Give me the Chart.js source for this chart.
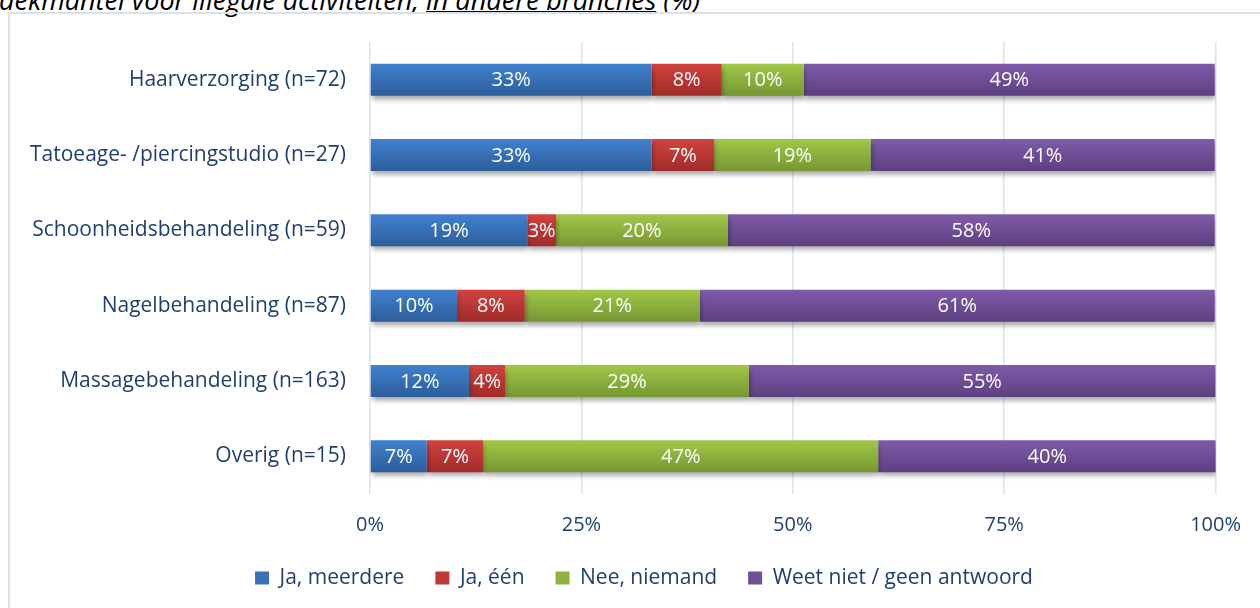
<!DOCTYPE html>
<html>
<head>
<meta charset="utf-8">
<script src="https://cdn.jsdelivr.net/npm/chart.js@4"></script>
<style>
  body { margin: 0; background: #fff; width: 1260px; height: 608px; overflow: hidden; position: relative; }
  #titel { position: absolute; left: -1px; top: -14px; font: italic 27px "Open Sans", sans-serif; line-height: 27px; color: #000; white-space: nowrap; }
  #titel u { text-decoration-thickness: 1.5px; }
  #kader { position: absolute; left: 8px; top: 12px; width: 1300px; height: 700px; border: 2px solid #d8e2ef; }
  #wrap { position: absolute; left: 0; top: 0; width: 1260px; height: 608px; }
</style>
</head>
<body>
<div id="titel">dekmantel voor illegale activiteiten, <u>in andere branches</u> (%)</div>
<div id="kader"></div>
<div id="wrap"><canvas id="grafiek" width="1260" height="608"></canvas></div>
<script>
const branches = [
  "Haarverzorging (n=72)",
  "Tatoeage- /piercingstudio (n=27)",
  "Schoonheidsbehandeling (n=59)",
  "Nagelbehandeling (n=87)",
  "Massagebehandeling (n=163)",
  "Overig (n=15)"
];
const jaMeerdere = [33.3, 33.3, 18.6, 10.3, 11.7, 6.7];
const jaEen = [8.3, 7.4, 3.4, 8.0, 4.3, 6.7];
const neeNiemand = [9.7, 18.5, 20.3, 20.7, 28.8, 46.7];
const weetNiet = [48.6, 40.7, 57.6, 60.9, 55.2, 40.0];
const tickLabels = ["0%", "25%", "50%", "75%", "100%"];

const barDeel = 0.425;
const tekstKleur = "#1f3f6e";

function verloop(boven, onder) {
  return (c) => {
    const chart = c.chart;
    const ys = chart.scales && chart.scales.y;
    if (!ys || c.type !== "data" || !ys.height) return boven;
    const y = ys.getPixelForValue(c.dataIndex);
    const half = (ys.height / branches.length) * barDeel / 2;
    const g = chart.ctx.createLinearGradient(0, y - half, 0, y + half);
    g.addColorStop(0, boven);
    g.addColorStop(1, onder);
    return g;
  };
}

const kleuren = [
  ["#4081d0", "#2d5d9a", "#3a70b5"],
  ["#d2423d", "#9f2c29", "#c0393a"],
  ["#a0c848", "#779733", "#8fb33e"],
  ["#7f5baa", "#5d4080", "#6f4f96"]
];

// schaduw onder de balken + witte percentages in de balken
const schaduw = {
  id: "schaduw",
  afterLayout(chart) {
    // legenda staat iets rechts van het midden
    chart.legend.left += 32;
    chart.legend.right += 32;
  },
  beforeDatasetsDraw(chart) {
    const ctx = chart.ctx;
    ctx.save();
    ctx.shadowColor = "rgba(0,0,0,0.35)";
    ctx.shadowBlur = 5;
    ctx.shadowOffsetX = 1;
    ctx.shadowOffsetY = 4;
  },
  afterDatasetsDraw(chart) {
    const ctx = chart.ctx;
    ctx.restore();
    ctx.save();
    ctx.fillStyle = "#ffffff";
    ctx.font = "20px 'Open Sans', sans-serif";
    ctx.textAlign = "center";
    ctx.textBaseline = "middle";
    chart.data.datasets.forEach((ds, i) => {
      chart.getDatasetMeta(i).data.forEach((bar, j) => {
        const v = ds.data[j];
        const x = (bar.x + bar.base) / 2;
        ctx.fillText(Math.round(v) + "%", x, bar.y + 1);
      });
    });
    ctx.restore();
  }
};

const ctx = document.getElementById("grafiek").getContext("2d");
new Chart(ctx, {
  type: "bar",
  data: {
    labels: branches,
    datasets: [
      { label: "Ja, meerdere", data: jaMeerdere },
      { label: "Ja, één", data: jaEen },
      { label: "Nee, niemand", data: neeNiemand },
      { label: "Weet niet / geen antwoord", data: weetNiet }
    ].map((ds, i) => ({
      ...ds,
      backgroundColor: verloop(kleuren[i][0], kleuren[i][1]),
      borderWidth: 0,
      barPercentage: barDeel,
      categoryPercentage: 1
    }))
  },
  options: {
    indexAxis: "y",
    responsive: false,
    animation: false,
    layout: { padding: { left: 8, right: 44, top: 42, bottom: 9.5 } },
    scales: {
      x: {
        stacked: true,
        min: 0,
        max: 100,
        border: { display: false },
        grid: { color: "#d9e4f1", lineWidth: 1.5, drawTicks: false },
        afterFit: (s) => { s.height = 42.5; },
        ticks: {
          stepSize: 25,
          padding: 19,
          color: tekstKleur,
          font: { family: "Open Sans", size: 20 },
          callback: (v, i) => tickLabels[i]
        }
      },
      y: {
        stacked: true,
        border: { display: false },
        grid: { display: false, drawTicks: false },
        afterFit: (s) => { s.width = 362; },
        ticks: {
          padding: 24,
          color: tekstKleur,
          font: { family: "Open Sans", size: 21 }
        }
      }
    },
    plugins: {
      tooltip: { enabled: false },
      legend: {
        position: "bottom",
        labels: {
          boxWidth: 14,
          boxHeight: 13,
          padding: 31,
          color: tekstKleur,
          font: { family: "Open Sans", size: 21 },
          generateLabels: (chart) => chart.data.datasets.map((ds, i) => ({
            text: ds.label,
            fillStyle: kleuren[i][2],
            strokeStyle: kleuren[i][2],
            lineWidth: 0,
            datasetIndex: i,
            fontColor: tekstKleur
          }))
        }
      }
    }
  },
  plugins: [schaduw]
});
</script>
</body>
</html>
